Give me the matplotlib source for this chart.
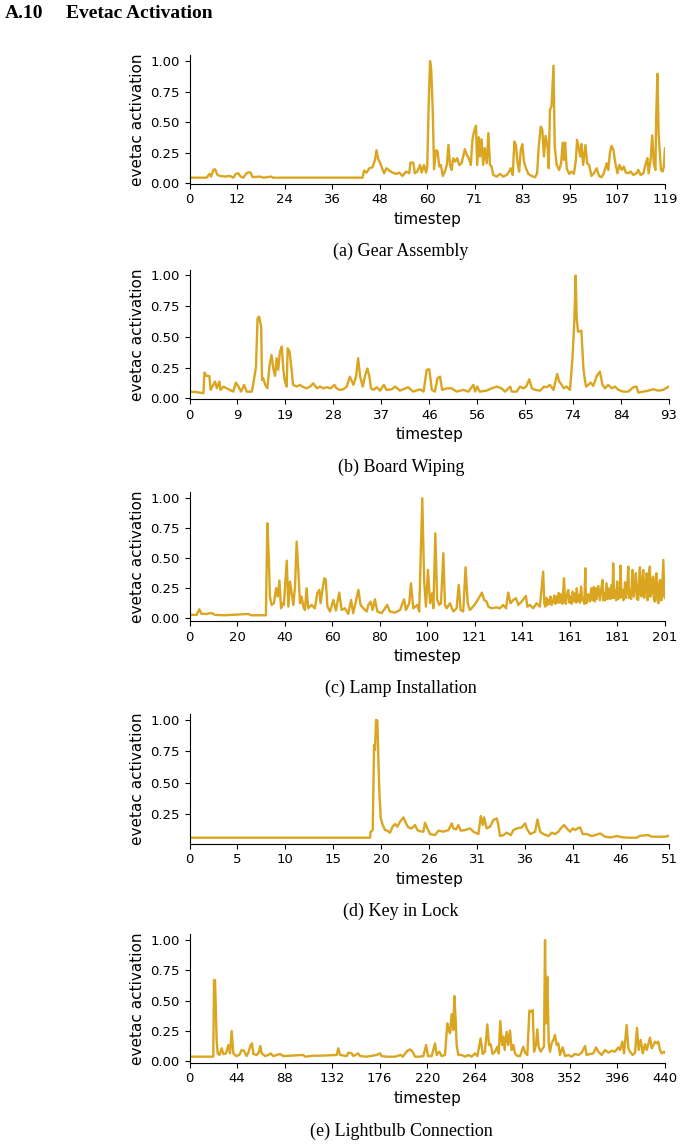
import numpy as np
import matplotlib.pyplot as plt
from matplotlib.ticker import MultipleLocator, FormatStrFormatter

# (timestep, activation)
gear = [(0, 0.046), (4.3, 0.046), (5.0, 0.077), (5.4, 0.055), (6.0, 0.11), (6.4, 0.115), (7.0, 0.068),
        (7.6, 0.06), (8.9, 0.055), (10.1, 0.06), (11.0, 0.046), (11.6, 0.077), (12.2, 0.082), (12.8, 0.055),
        (13.5, 0.046), (14.1, 0.077), (14.7, 0.09), (15.3, 0.087), (15.8, 0.05), (17.6, 0.055), (18.5, 0.046),
        (20.5, 0.055), (20.8, 0.046), (43.3, 0.046), (43.7, 0.104), (44.3, 0.087), (45.0, 0.123), (45.8, 0.131),
        (46.4, 0.19), (46.8, 0.27), (47.3, 0.191), (47.7, 0.169), (48.1, 0.131), (48.7, 0.082), (49.3, 0.123),
        (50.0, 0.104), (50.8, 0.087), (51.7, 0.077), (52.5, 0.087), (53.3, 0.06), (54.2, 0.096), (55.0, 0.082),
        (55.3, 0.169), (56.0, 0.169), (56.4, 0.082), (57.0, 0.096), (57.7, 0.15), (58.1, 0.087), (58.7, 0.15),
        (59.2, 0.087), (59.5, 0.137), (59.8, 0.57), (60.2, 1.0), (60.5, 0.93), (60.9, 0.57), (61.2, 0.115),
        (61.7, 0.27), (62.1, 0.26), (62.5, 0.137), (62.9, 0.15), (63.4, 0.06), (63.9, 0.096), (64.4, 0.15),
        (64.8, 0.314), (65.2, 0.15), (65.6, 0.109), (66.0, 0.205), (66.5, 0.178), (67.0, 0.205), (67.5, 0.15),
        (68.1, 0.164), (68.5, 0.219), (68.9, 0.279), (69.4, 0.232), (69.9, 0.205), (70.4, 0.15), (70.8, 0.355),
        (71.2, 0.423), (71.7, 0.47), (72.0, 0.15), (72.4, 0.377), (72.7, 0.219), (73.1, 0.361), (73.5, 0.15),
        (73.9, 0.287), (74.4, 0.164), (74.8, 0.41), (75.2, 0.15), (75.6, 0.137), (76.0, 0.068), (76.9, 0.055),
        (77.7, 0.077), (78.5, 0.055), (79.4, 0.068), (80.0, 0.096), (80.4, 0.123), (80.9, 0.068), (81.3, 0.342),
        (81.7, 0.314), (82.1, 0.164), (82.5, 0.096), (82.9, 0.273), (83.3, 0.32), (83.7, 0.178), (84.2, 0.123),
        (84.8, 0.077), (85.6, 0.06), (86.5, 0.05), (87.0, 0.082), (87.4, 0.30), (87.9, 0.464), (88.3, 0.437),
        (88.7, 0.219), (89.1, 0.388), (89.6, 0.30), (89.9, 0.123), (90.2, 0.60), (90.6, 0.628), (91.1, 0.962),
        (91.4, 0.30), (91.9, 0.15), (92.5, 0.109), (93.0, 0.164), (93.4, 0.333), (93.7, 0.191), (94.0, 0.333),
        (94.4, 0.123), (95.0, 0.077), (95.6, 0.096), (96.2, 0.077), (96.7, 0.191), (97.0, 0.355), (97.5, 0.273),
        (97.8, 0.219), (98.1, 0.322), (98.5, 0.15), (99.1, 0.314), (99.5, 0.164), (100.0, 0.15), (100.6, 0.06),
        (101.2, 0.082), (101.9, 0.123), (102.5, 0.06), (103.1, 0.05), (103.7, 0.082), (104.4, 0.164),
        (104.8, 0.109), (105.2, 0.246), (105.6, 0.306), (106.1, 0.273), (106.5, 0.178), (107.1, 0.082),
        (107.6, 0.15), (108.2, 0.109), (108.7, 0.137), (109.2, 0.087), (109.8, 0.082), (110.4, 0.096),
        (111.1, 0.068), (111.9, 0.082), (112.3, 0.109), (112.9, 0.068), (113.6, 0.082), (114.2, 0.164),
        (114.6, 0.205), (114.9, 0.082), (115.4, 0.191), (115.8, 0.391), (116.2, 0.164), (116.6, 0.109),
        (116.8, 0.546), (117.1, 0.896), (117.4, 0.41), (117.7, 0.246), (118.0, 0.109), (118.4, 0.096),
        (118.7, 0.137), (119.0, 0.287)]

board = [(0, 0.054), (1.4, 0.05), (2.7, 0.041), (2.9, 0.209), (3.3, 0.182), (3.85, 0.182), (4.1, 0.068),
         (4.6, 0.109), (4.95, 0.136), (5.3, 0.081), (5.8, 0.136), (6.0, 0.068), (6.6, 0.095), (7.2, 0.081),
         (7.85, 0.068), (8.5, 0.054), (9.0, 0.128), (9.5, 0.095), (10.0, 0.054), (10.6, 0.109), (11.1, 0.054),
         (12.1, 0.054), (12.5, 0.149), (12.9, 0.258), (13.2, 0.651), (13.5, 0.665), (13.9, 0.584),
         (14.06, 0.149), (14.3, 0.163), (14.7, 0.109), (15.1, 0.081), (15.5, 0.258), (15.9, 0.353),
         (16.3, 0.231), (16.6, 0.182), (16.9, 0.326), (17.2, 0.231), (17.55, 0.38), (17.9, 0.421),
         (18.2, 0.231), (18.5, 0.136), (18.85, 0.095), (19.04, 0.407), (19.4, 0.38), (19.8, 0.231),
         (20.1, 0.109), (20.8, 0.095), (21.4, 0.109), (22.1, 0.09), (22.7, 0.081), (23.4, 0.095), (24.0, 0.122),
         (24.7, 0.081), (25.3, 0.095), (26.0, 0.081), (26.6, 0.09), (27.4, 0.081), (28.1, 0.109), (28.5, 0.081),
         (29.2, 0.068), (29.8, 0.073), (30.5, 0.095), (31.1, 0.176), (31.8, 0.109), (32.3, 0.176),
         (32.7, 0.326), (33.1, 0.176), (33.6, 0.095), (34.0, 0.176), (34.5, 0.242), (34.9, 0.176),
         (35.2, 0.081), (35.7, 0.068), (36.3, 0.09), (36.95, 0.062), (37.7, 0.109), (38.2, 0.068),
         (39.2, 0.073), (39.9, 0.095), (40.8, 0.062), (42.4, 0.09), (43.4, 0.054), (44.7, 0.073),
         (45.4, 0.054), (46.0, 0.231), (46.5, 0.236), (47.0, 0.068), (47.6, 0.054), (48.1, 0.163),
         (48.6, 0.176), (49.0, 0.068), (49.9, 0.081), (50.85, 0.081), (51.8, 0.054), (53.1, 0.068),
         (54.1, 0.054), (55.05, 0.109), (55.4, 0.054), (55.8, 0.095), (56.3, 0.054), (57.6, 0.062),
         (58.6, 0.081), (59.6, 0.095), (60.5, 0.081), (61.2, 0.054), (62.2, 0.095), (62.5, 0.054),
         (63.45, 0.054), (64.1, 0.095), (64.75, 0.081), (65.3, 0.095), (65.9, 0.155), (66.4, 0.081),
         (67.0, 0.068), (68.0, 0.062), (68.75, 0.095), (69.3, 0.09), (69.9, 0.109), (70.6, 0.068),
         (71.3, 0.198), (71.7, 0.136), (72.2, 0.109), (72.6, 0.081), (73.15, 0.095), (73.8, 0.068),
         (74.3, 0.339), (74.64, 0.638), (74.9, 1.0), (75.1, 0.651), (75.35, 0.543), (75.6, 0.543),
         (76.0, 0.551), (76.4, 0.244), (76.64, 0.163), (76.9, 0.095), (77.35, 0.109), (77.8, 0.128),
         (78.3, 0.10), (79.0, 0.182), (79.6, 0.217), (80.1, 0.109), (80.6, 0.081), (81.2, 0.109),
         (81.9, 0.081), (82.5, 0.095), (83.2, 0.068), (84.1, 0.054), (85.1, 0.054), (86.1, 0.09),
         (86.7, 0.095), (87.05, 0.046), (88.0, 0.054), (89.0, 0.062), (89.96, 0.073), (90.9, 0.062),
         (91.9, 0.068), (92.9, 0.095), (93.0, 0.09)]

lamp = [(0, 0.028), (3.0, 0.028), (4.15, 0.075), (5.1, 0.036), (7.3, 0.036), (8.5, 0.042), (9.4, 0.042),
        (10.8, 0.028), (15, 0.025), (24.9, 0.036), (26, 0.025), (32.3, 0.025), (32.9, 0.792), (33.5, 0.514),
        (34.0, 0.181), (34.7, 0.111), (35.7, 0.125), (36.6, 0.25), (37.3, 0.181), (38.0, 0.314), (38.7, 0.083),
        (39.4, 0.125), (39.9, 0.111), (41.1, 0.48), (41.8, 0.097), (42.5, 0.306), (43.2, 0.208), (43.9, 0.111),
        (44.6, 0.264), (45.3, 0.639), (46.0, 0.403), (46.7, 0.125), (47.4, 0.181), (48.1, 0.097), (48.8, 0.069),
        (49.5, 0.25), (50.2, 0.083), (51.6, 0.111), (53.0, 0.083), (54.0, 0.208), (54.9, 0.236), (55.4, 0.125),
        (56.3, 0.25), (57.0, 0.333), (57.6, 0.319), (58.3, 0.097), (59.4, 0.056), (60.8, 0.153), (61.9, 0.064),
        (63.3, 0.214), (64.3, 0.069), (65.7, 0.083), (67.1, 0.036), (68.3, 0.153), (69.2, 0.042), (71.4, 0.236),
        (72.3, 0.111), (73.5, 0.083), (74.9, 0.056), (75.6, 0.111), (76.6, 0.139), (77.4, 0.069), (78.4, 0.158),
        (79.4, 0.056), (81.2, 0.042), (83.6, 0.111), (84.7, 0.056), (86.9, 0.047), (89.0, 0.069), (90.7, 0.158),
        (91.5, 0.069), (92.9, 0.125), (93.6, 0.292), (94.6, 0.083), (96.3, 0.111), (97.1, 0.056), (98.4, 1.0),
        (99.2, 0.306), (99.96, 0.097), (100.8, 0.403), (101.7, 0.125), (102.5, 0.208), (103.1, 0.083),
        (103.9, 0.708), (104.7, 0.153), (105.6, 0.111), (106.3, 0.125), (107.3, 0.542), (108.0, 0.111),
        (108.7, 0.083), (110.1, 0.125), (111.5, 0.056), (112.9, 0.083), (113.8, 0.278), (114.6, 0.069),
        (115.7, 0.056), (116.7, 0.425), (117.6, 0.125), (118.5, 0.069), (119.9, 0.097), (121.4, 0.139),
        (122.5, 0.175), (123.6, 0.214), (124.5, 0.153), (125.6, 0.139), (126.3, 0.097), (127.7, 0.083),
        (129.8, 0.09), (131.2, 0.083), (132.6, 0.111), (133.8, 0.083), (134.7, 0.214), (135.7, 0.125),
        (136.9, 0.153), (138.0, 0.167), (139.0, 0.111), (140.4, 0.139), (142.2, 0.186), (142.8, 0.097),
        (143.9, 0.111), (145.3, 0.083), (146.7, 0.125), (148.1, 0.097), (149.5, 0.389), (150.0, 0.12),
        (150.4, 0.097), (150.9, 0.17), (151.3, 0.11), (151.7, 0.153), (152.1, 0.12), (152.6, 0.181),
        (153.1, 0.11), (153.7, 0.139), (154.2, 0.19), (154.7, 0.12), (155.2, 0.181), (155.7, 0.13),
        (156.1, 0.21), (156.6, 0.13), (157.1, 0.2), (157.7, 0.12), (158.3, 0.333), (158.7, 0.15),
        (159.1, 0.12), (159.6, 0.2), (160.1, 0.236), (160.6, 0.13), (161.1, 0.181), (161.5, 0.12),
        (162.0, 0.222), (162.5, 0.14), (163.0, 0.208), (163.4, 0.13), (163.7, 0.25), (164.2, 0.14),
        (164.8, 0.194), (165.1, 0.13), (165.5, 0.264), (166.0, 0.15), (166.5, 0.167), (166.9, 0.12),
        (167.3, 0.417), (167.6, 0.16), (167.9, 0.125), (168.6, 0.2), (169.3, 0.139), (169.8, 0.25),
        (170.4, 0.15), (170.9, 0.26), (171.3, 0.14), (171.7, 0.25), (172.1, 0.16), (172.8, 0.27),
        (173.5, 0.15), (174.0, 0.24), (174.6, 0.319), (174.9, 0.15), (175.2, 0.208), (175.7, 0.15),
        (176.3, 0.292), (176.8, 0.16), (177.4, 0.25), (177.9, 0.16), (178.4, 0.278), (178.8, 0.17),
        (179.1, 0.458), (179.5, 0.17), (179.9, 0.236), (180.4, 0.15), (180.8, 0.306), (181.2, 0.16),
        (181.7, 0.25), (182.0, 0.17), (182.2, 0.439), (182.6, 0.18), (183.1, 0.236), (183.4, 0.15),
        (183.7, 0.181), (184.1, 0.3), (184.5, 0.17), (185.0, 0.25), (185.5, 0.431), (185.8, 0.17),
        (186.2, 0.236), (186.7, 0.16), (187.2, 0.403), (187.5, 0.2), (187.9, 0.181), (188.3, 0.3),
        (188.7, 0.375), (189.2, 0.16), (189.7, 0.153), (190.0, 0.3), (190.4, 0.425), (190.7, 0.2),
        (191.1, 0.181), (191.5, 0.33), (191.8, 0.403), (192.2, 0.17), (192.5, 0.236), (192.9, 0.3),
        (193.2, 0.375), (193.6, 0.15), (193.9, 0.181), (194.2, 0.35), (194.6, 0.431), (194.9, 0.18),
        (195.3, 0.208), (195.6, 0.32), (196.0, 0.347), (196.3, 0.16), (196.7, 0.139), (197.0, 0.3),
        (197.4, 0.375), (197.8, 0.15), (198.2, 0.125), (198.5, 0.28), (198.9, 0.319), (199.2, 0.15),
        (199.6, 0.153), (199.9, 0.3), (200.3, 0.486), (200.7, 0.181), (201, 0.17)]

key = [(0, 0.061), (19.2, 0.061), (19.27, 0.109), (19.49, 0.122), (19.63, 0.802), (19.73, 0.762),
       (19.84, 1.0), (19.98, 0.997), (20.09, 0.682), (20.2, 0.415), (20.34, 0.215), (20.55, 0.162),
       (20.8, 0.122), (21.05, 0.117), (21.33, 0.101), (21.6, 0.149), (21.86, 0.17), (22.11, 0.149),
       (22.39, 0.189), (22.75, 0.223), (23.03, 0.175), (23.28, 0.143), (23.63, 0.135), (23.99, 0.162),
       (24.24, 0.122), (24.52, 0.112), (24.88, 0.109), (25.05, 0.181), (25.3, 0.135), (25.59, 0.09),
       (26.12, 0.082), (26.47, 0.117), (27.0, 0.109), (27.54, 0.122), (27.89, 0.175), (28.07, 0.135),
       (28.35, 0.127), (28.6, 0.162), (28.85, 0.117), (29.31, 0.122), (29.84, 0.135), (30.2, 0.109),
       (30.73, 0.09), (30.98, 0.234), (31.19, 0.162), (31.33, 0.223), (31.61, 0.135), (31.97, 0.149),
       (32.32, 0.202), (32.68, 0.215), (32.85, 0.162), (33.03, 0.074), (33.39, 0.082), (33.74, 0.101),
       (34.17, 0.082), (34.45, 0.122), (34.8, 0.135), (35.34, 0.143), (35.69, 0.175), (35.87, 0.135),
       (36.23, 0.09), (36.76, 0.109), (37.01, 0.207), (37.29, 0.109), (37.65, 0.09), (38.18, 0.074),
       (38.53, 0.101), (38.89, 0.09), (39.24, 0.109), (39.49, 0.135), (39.84, 0.162), (40.13, 0.135),
       (40.48, 0.109), (40.77, 0.135), (41.01, 0.122), (41.26, 0.135), (41.54, 0.143), (41.83, 0.09),
       (42.25, 0.09), (42.79, 0.074), (43.14, 0.082), (43.67, 0.095), (44.2, 0.069), (44.73, 0.063),
       (45.45, 0.074), (46.16, 0.063), (46.86, 0.061), (47.57, 0.061), (47.93, 0.077), (48.81, 0.082),
       (49.17, 0.069), (49.88, 0.069), (50.59, 0.069), (51, 0.077)]

bulb = [(0, 0.036), (22.0, 0.036), (22.7, 0.669), (23.6, 0.669), (24.2, 0.49), (25.1, 0.174), (26.1, 0.063),
        (27.6, 0.05), (29.8, 0.105), (31.3, 0.058), (33.8, 0.063), (35.9, 0.132), (37.5, 0.063), (39.0, 0.248),
        (40.6, 0.063), (43.0, 0.041), (46.1, 0.05), (48.3, 0.091), (50.4, 0.085), (52.9, 0.041), (54.4, 0.069),
        (56.6, 0.132), (57.8, 0.146), (59.1, 0.058), (62.2, 0.05), (64.0, 0.069), (65.5, 0.124), (66.8, 0.063),
        (69.9, 0.041), (72.9, 0.05), (75.1, 0.063), (77.6, 0.041), (83.7, 0.058), (86.8, 0.041), (105.3, 0.05),
        (107, 0.036), (114.6, 0.044), (120.8, 0.044), (136.2, 0.05), (137.7, 0.105), (139.3, 0.05),
        (145.4, 0.041), (147.0, 0.069), (150.1, 0.063), (151.6, 0.041), (156.2, 0.063), (157.8, 0.041),
        (163.9, 0.036), (169.5, 0.044), (173.2, 0.05), (176.3, 0.063), (177.8, 0.041), (182.5, 0.036),
        (190.2, 0.036), (195.4, 0.05), (197.3, 0.036), (201.6, 0.085), (204.0, 0.096), (206.5, 0.077),
        (208.7, 0.036), (213.3, 0.036), (216.4, 0.041), (218.9, 0.132), (220.7, 0.041), (224.1, 0.041),
        (227.2, 0.146), (228.7, 0.05), (231.2, 0.077), (233.3, 0.041), (236.4, 0.05), (238.6, 0.311),
        (239.8, 0.256), (241.1, 0.229), (242.6, 0.388), (244.1, 0.256), (245.1, 0.537), (246.3, 0.339),
        (247.2, 0.132), (248.8, 0.05), (251.9, 0.05), (254.9, 0.036), (258.0, 0.05), (261.1, 0.036),
        (264.2, 0.063), (266.4, 0.041), (269.4, 0.187), (271.3, 0.058), (273.4, 0.077), (275.6, 0.303),
        (277.1, 0.132), (278.7, 0.14), (280.5, 0.058), (282.7, 0.077), (284.9, 0.118), (286.1, 0.063),
        (287.6, 0.331), (289.2, 0.132), (290.4, 0.201), (291.6, 0.091), (293.5, 0.242), (295.0, 0.132),
        (296.6, 0.251), (298.1, 0.091), (299.7, 0.132), (301.2, 0.063), (303.4, 0.041), (305.8, 0.041),
        (308.9, 0.118), (310.8, 0.063), (312.6, 0.05), (314.5, 0.416), (316.0, 0.408), (317.6, 0.421),
        (318.8, 0.077), (320.6, 0.132), (321.9, 0.262), (323.1, 0.118), (325.0, 0.077), (326.8, 0.105),
        (328.0, 0.118), (329.0, 1.0), (329.9, 0.311), (331.1, 0.697), (332.4, 0.146), (333.6, 0.077),
        (335.1, 0.146), (336.7, 0.174), (338.2, 0.215), (339.8, 0.132), (341.3, 0.146), (342.8, 0.05),
        (345.3, 0.113), (347.5, 0.041), (350.6, 0.05), (353.6, 0.036), (356.7, 0.058), (359.8, 0.05),
        (362.9, 0.069), (366.0, 0.124), (367.5, 0.05), (370.6, 0.058), (373.7, 0.063), (376.2, 0.113),
        (378.3, 0.077), (381.4, 0.05), (384.5, 0.091), (387.6, 0.069), (390.7, 0.085), (393.7, 0.077),
        (396.8, 0.113), (398.4, 0.091), (400.5, 0.16), (402.1, 0.063), (404.5, 0.298), (406.1, 0.105),
        (407.6, 0.077), (410.1, 0.05), (412.3, 0.069), (414.1, 0.275), (415.6, 0.091), (417.5, 0.174),
        (419.4, 0.063), (421.5, 0.14), (423.1, 0.091), (426.1, 0.193), (427.7, 0.105), (429.2, 0.132),
        (430.8, 0.16), (432.3, 0.146), (433.8, 0.16), (435.4, 0.091), (436.9, 0.063), (439.4, 0.077),
        (440, 0.07)]

series = [gear, board, lamp, key, bulb]
lengths = [119, 93, 201, 51, 440]
captions = ['(a) Gear Assembly', '(b) Board Wiping', '(c) Lamp Installation',
            '(d) Key in Lock', '(e) Lightbulb Connection']

W, H = 683, 1147
# рамки осей в пикселях: верх, низ, правый край
boxes = [(55.2, 183.5, 665), (269.6, 399.1, 669), (492.4, 621.1, 665),
         (714.1, 843.6, 669), (934.2, 1062.5, 665)]
cap_y = [251, 467, 688, 911, 1131]
left = 189.5

plt.rcParams['font.family'] = 'DejaVu Sans'
fig = plt.figure(figsize=(W / 100, H / 100), dpi=100)

fig.text(5 / W, 1 - 14 / H, 'A.10', family='Liberation Serif', weight='bold',
         fontsize=14, va='center', ha='left')
fig.text(66 / W, 1 - 14 / H, 'Evetac Activation', family='Liberation Serif', weight='bold',
         fontsize=14, va='center', ha='left')

for data, n, cap, (top, bot, right), cy in zip(series, lengths, captions, boxes, cap_y):
    ax = fig.add_axes([left / W, 1 - bot / H, (right - left) / W, (bot - top) / H])
    t, v = zip(*data)
    ax.plot(t, v, color='goldenrod', lw=1.7)
    ax.set_xlim(0, n)
    ticks = np.linspace(0, n, 11)
    ax.set_xticks(ticks)
    ax.set_xticklabels([str(round(x)) for x in ticks])
    ax.yaxis.set_major_locator(MultipleLocator(0.25))
    ax.yaxis.set_major_formatter(FormatStrFormatter('%.2f'))
    ax.tick_params(labelsize=9.5)
    ax.set_xlabel('timestep', fontsize=11)
    ax.set_ylabel('evetac activation', fontsize=11)
    ax.spines['top'].set_visible(False)
    ax.spines['right'].set_visible(False)
    fig.text(401 / W, 1 - cy / H, cap, family='Liberation Serif', fontsize=13,
             ha='center', va='center')

fig.savefig('out.png', dpi=100)
